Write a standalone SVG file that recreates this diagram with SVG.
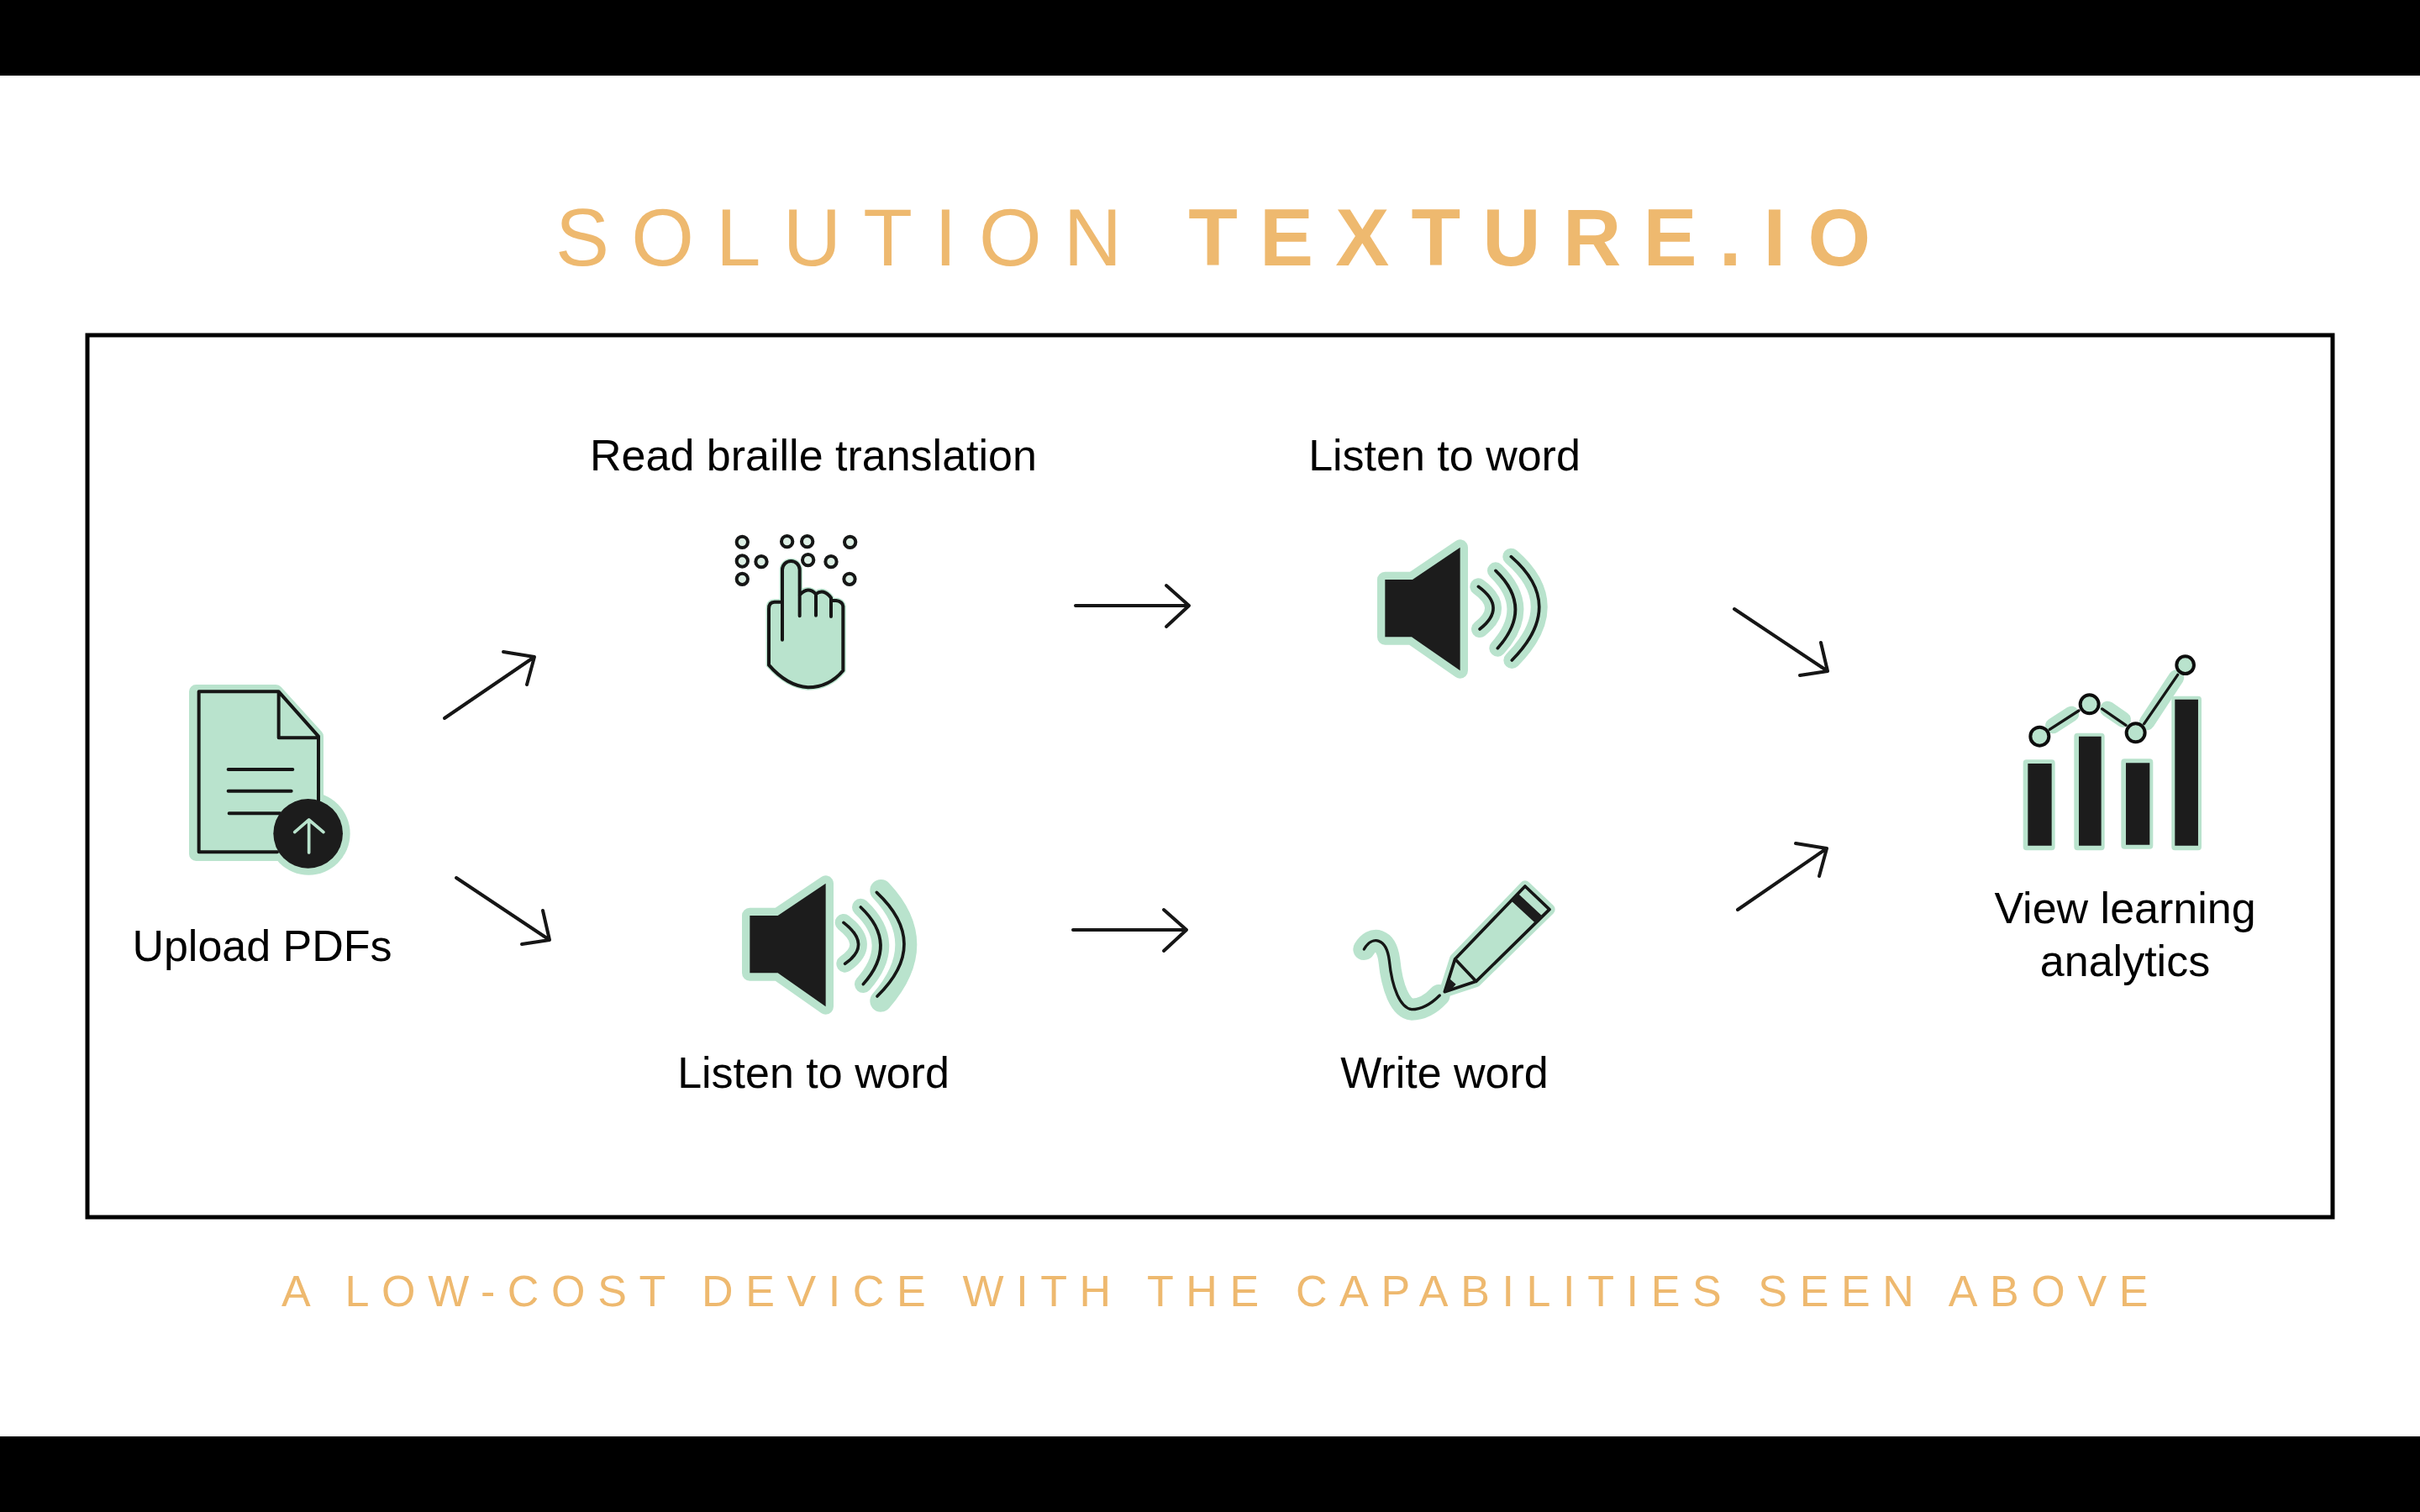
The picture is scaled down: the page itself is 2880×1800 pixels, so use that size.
<svg xmlns="http://www.w3.org/2000/svg" width="2880" height="1800" viewBox="0 0 2880 1800">
<defs>
<filter id="soft" x="-10%" y="-10%" width="120%" height="120%"><feGaussianBlur stdDeviation="2.2"/></filter>
<filter id="softA" filterUnits="userSpaceOnUse" x="400" y="600" width="1900" height="600"><feGaussianBlur stdDeviation="0.7"/></filter>
</defs>
<style>
text{font-family:"Liberation Sans",Arial,sans-serif}
.title{font-size:96px;fill:#eeb96f;letter-spacing:26.2px}
.sub{font-size:52px;fill:#eeb96f;letter-spacing:14.63px}
.lab{font-size:52px;fill:#000;text-anchor:middle}
.halo{fill:#b9e3cd;stroke:#b9e3cd;stroke-linejoin:round;stroke-linecap:round}
.haloL{fill:none;stroke:#b9e3cd;stroke-linecap:round;stroke-linejoin:round}
.ink{fill:none;stroke:#141715;stroke-linecap:round;stroke-linejoin:round}
.solid{fill:#1c1c1c}
.arrow{fill:none;stroke:#141414;stroke-width:4;stroke-linecap:round;stroke-linejoin:round}
.icon{filter:url(#soft)}
</style>
<rect width="2880" height="1800" fill="#fff"/>
<rect width="2880" height="90" fill="#000"/>
<rect y="1710" width="2880" height="90" fill="#000"/>
<text class="title" x="661" y="316">SOLUTION <tspan font-weight="700">TEXTURE.IO</tspan></text>
<rect x="104" y="399" width="2672" height="1050" fill="none" stroke="#000" stroke-width="5"/>
<text class="sub" x="335" y="1555">A LOW-COST DEVICE WITH THE CAPABILITIES SEEN ABOVE</text>

<g id="connectors" filter="url(#softA)">
<path class="arrow" d="M529 855L636 782M599 776L636 782L627 815"/>
<path class="arrow" d="M543 1045L654 1119M646 1084L654 1119L621 1124"/>
<path class="arrow" d="M1280 721H1415M1388 697L1415 721L1388 746"/>
<path class="arrow" d="M1277 1107H1412M1385 1083L1412 1107L1385 1132"/>
<path class="arrow" d="M2064 725L2175 799M2167 765L2175 799L2142 804"/>
<path class="arrow" d="M2068 1083L2174 1010M2137 1004L2174 1010L2165 1043"/>
</g>

<g id="upload-pdfs">
<g class="icon" transform="translate(180 780) scale(.3333)">
<path class="halo" stroke-width="50" d="M160 130H445L590 290V520L560 640V710H160Z"/>
<circle cx="562" cy="637" r="148" fill="#b9e3cd"/>
<path fill="#b9e3cd" d="M170 130H455L597 290V703H170Z"/>
<path class="ink" stroke-width="12" d="M170 703V130H455L597 290V520M455 130V295H597M170 703H450M275 408H505M275 485H500M278 565H460"/>
<circle class="solid" cx="560" cy="637" r="124"/>
<path fill="none" stroke="#b9e3cd" stroke-width="11" stroke-linecap="round" stroke-linejoin="round" d="M563 705V588M512 632L563 588L615 632"/>
</g>
<text class="lab" x="312" y="1144">Upload PDFs</text>
</g>

<g id="read-braille">
<text class="lab" x="968" y="560">Read braille translation</text>
<g class="icon" transform="translate(840 610) scale(.3333)">
<path class="halo" stroke-width="20" d="M273 320V205A31 31 0 0 1 335 205V290Q365 265 393 290Q420 270 447 305V315H470Q488 320 490 335V565Q440 625 365 625Q290 620 225 545V345Q225 320 245 320Z"/>
<path class="ink" stroke-width="12" d="M273 455V205A31 31 0 0 1 335 205V370M335 295Q365 262 393 292V368M393 292Q420 270 447 305V372M447 315H465Q488 318 490 335V565Q440 625 365 625Q290 620 225 545V345Q225 320 245 320H273"/>
<g fill="#dcefe4" stroke="#141715" stroke-width="12">
<circle cx="130" cy="106" r="20"/><circle cx="290" cy="104" r="20"/><circle cx="362" cy="104" r="20"/><circle cx="515" cy="106" r="20"/>
<circle cx="130" cy="174" r="20"/><circle cx="198" cy="176" r="20"/><circle cx="365" cy="170" r="20"/><circle cx="447" cy="176" r="20"/>
<circle cx="130" cy="238" r="20"/><circle cx="513" cy="238" r="20"/>
</g>
</g>
</g>

<g id="listen-word-top">
<text class="lab" x="1719" y="560">Listen to word</text>
<g class="icon" transform="translate(1600 620) scale(.3333)">
<path class="halo" stroke-width="56" d="M145 210H243L413 95V535L240 415H145Z"/>
<g class="haloL" stroke-width="60"><path d="M478 235Q582 310 483 387"/><path d="M540 178Q677 310 547 455"/><path d="M595 128Q794 300 598 498"/></g>
<path class="solid" d="M145 210H243L413 95V535L240 415H145Z"/>
<g class="ink" stroke-width="11"><path d="M478 235Q582 310 483 387"/><path d="M540 178Q677 310 547 455"/><path d="M595 128Q794 300 598 498"/></g>
</g>
</g>

<g id="listen-word-bottom">
<text class="lab" x="968" y="1295">Listen to word</text>
<g class="icon" transform="translate(860 1030) scale(.3333)">
<path class="halo" stroke-width="56" d="M97 180H197L368 65V505L197 385H97Z"/>
<g class="haloL" stroke-width="62"><path d="M432 205Q535 285 437 352"/><path d="M493 150Q630 280 502 425"/></g>
<path class="haloL" stroke-width="78" d="M565 90Q745 280 565 485"/>
<path class="solid" d="M97 180H197L368 65V505L197 385H97Z"/>
<g class="ink" stroke-width="11"><path d="M432 205Q535 285 437 352"/><path d="M493 150Q630 280 502 425"/><path d="M550 97Q745 280 552 468"/></g>
</g>
</g>

<g id="write-word">
<text class="lab" x="1719" y="1295">Write word</text>
<g class="icon" transform="translate(1590 1030) scale(.3333)">
<path class="halo" stroke-width="40" d="M425 335L675 75L762 158L500 415L388 452Z"/>
<path class="haloL" stroke-width="78" d="M100 300C130 250 180 260 190 340C200 440 230 510 270 515C310 515 345 490 368 465"/>
<path class="ink" stroke-width="10" d="M100 300C130 250 180 260 190 340C200 440 230 510 270 515C310 515 345 490 370 465"/>
<path class="ink" stroke-width="11" d="M425 335L675 75L762 158L500 415L388 452ZM425 335L500 415"/>
<path class="solid" d="M625 127L650 101L737 182L712 207Z"/>
<path class="solid" d="M388 452L405 405L428 425L415 440Z"/>
</g>
</g>

<g id="view-analytics">
<text class="lab" x="2529" y="1099">View learning</text>
<text class="lab" x="2529" y="1162">analytics</text>
<g class="icon" transform="translate(2380 760) scale(.3333)">
<g class="halo" stroke-width="24"><path d="M95 445H185V745H95Z"/><path d="M277 350H362V745H277Z"/><path d="M445 442H535V740H445Z"/><path d="M625 218H708V745H625Z"/></g>
<g class="haloL" stroke-width="56"><path d="M190 312L255 270"/><path d="M385 252L440 290"/><path d="M525 300L630 140"/></g>
<g class="solid"><path d="M100 447H185V740H100Z"/><path d="M282 350H362V740H282Z"/><path d="M450 445H535V737H450Z"/><path d="M625 218H708V740H625Z"/></g>
<path class="ink" stroke-width="10" d="M178 325L282 258M365 252L450 310M515 305L635 130"/>
<g fill="#b9e3cd" stroke="#111" stroke-width="12"><circle cx="142" cy="350" r="33"/><circle cx="320" cy="235" r="33"/><circle cx="485" cy="337" r="33"/><circle cx="662" cy="95" r="31"/></g>
</g>
</g>
</svg>
